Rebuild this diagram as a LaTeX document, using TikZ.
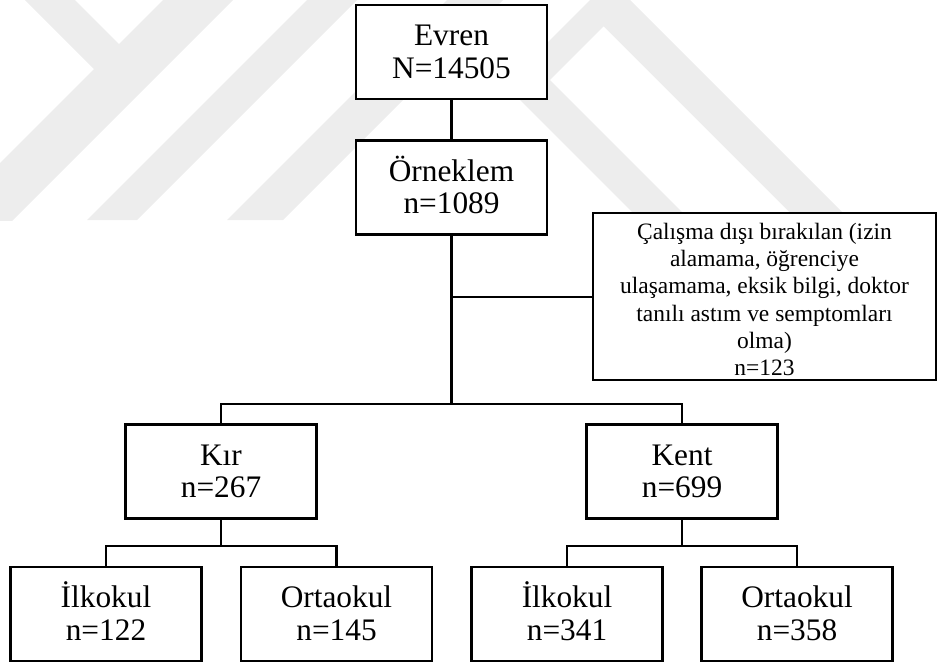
\documentclass[tikz,border=0pt]{standalone}
\usepackage{fontspec}
\setmainfont{Liberation Serif}
\newcommand\firstline[1]{\vphantom{N}\smash{#1}}
\begin{document}
\begin{tikzpicture}[x=0.75pt,y=-0.75pt,
  box/.style={draw, line width=2.1pt, fill=white, inner sep=0pt,
    minimum width=143.25pt, minimum height=70.5pt, align=center,
    font=\fontsize{23.5}{24.5}\selectfont},
  bigbox/.style={draw, line width=2.1pt, fill=white, inner sep=0pt,
    minimum width=257.25pt, minimum height=125.25pt},
  bigtext/.style={align=center, inner sep=0pt,
    font=\fontsize{17.6}{20.4}\selectfont},
  conn/.style={line width=1.9pt},
  wm/.style={fill=black!7, draw=none}]
\useasboundingbox (0,0) rectangle (938,664);
% faint watermark
\begin{scope}
  \clip (0,0) rectangle (938,220);
  \fill[wm] (25,0) -- (75,0) -- (119,44) -- (163,0) -- (233,0) -- (0,233) -- (0,163) -- (94,69) -- cycle;
  \fill[wm] (307,0) -- (357,0) -- (137,220) -- (87,220) -- cycle;
  \fill[wm] (447,0) -- (503,0) -- (283,220) -- (227,220) -- cycle;
  \fill[wm] (590,0) -- (630,0) -- (850,220) -- (640,220) -- (505,85) -- cycle;
  \fill[white] (550,80) -- (603.5,26.5) -- (797,220) -- (690,220) -- cycle;
\end{scope}
% nodes
\node[box] (evren) at (451.5,52) {\firstline{Evren}\\N=14505};
\node[box] (orn) at (451.5,187.5) {\firstline{Örneklem}\\n=1089};
\node[bigbox] (excl) at (764.5,296.5) {};
\node[bigtext] (excltxt) at (764.5,299.5) {Çalışma dışı bırakılan (izin\\alamama, öğrenciye\\ulaşamama, eksik bilgi, doktor\\tanılı astım ve semptomları\\olma)\\n=123};
\node[box] (kir) at (221,471.5) {\firstline{Kır}\\n=267};
\node[box] (kent) at (682,471.5) {\firstline{Kent}\\n=699};
\node[box] (ki) at (106,614) {\firstline{İlkokul}\\n=122};
\node[box] (ko) at (336.5,614) {\firstline{Ortaokul}\\n=145};
\node[box] (ei) at (567,614) {\firstline{İlkokul}\\n=341};
\node[box] (eo) at (797,614) {\firstline{Ortaokul}\\n=358};
% junctions
\coordinate (j0) at (451.5,297);
\coordinate (j1) at (451.5,404);
\coordinate (j2) at (221,546);
\coordinate (j3) at (682,546);
% connectors
\draw[conn] (evren) -- (orn);
\draw[conn] (orn.south) -- (j1);
\draw[conn] (j0) -- (excl.west |- j0);
\draw[conn] (kir.north) |- (j1) -| (kent.north);
\draw[conn] (kir.south) -- (j2);
\draw[conn] (ki.north) |- (j2) -| (ko.north);
\draw[conn] (kent.south) -- (j3);
\draw[conn] (ei.north) |- (j3) -| (eo.north);
\end{tikzpicture}
\end{document}
